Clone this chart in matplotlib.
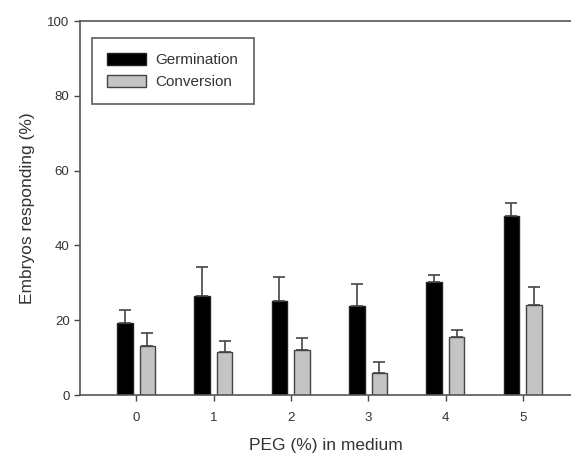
import numpy as np
import matplotlib
matplotlib.use("Agg")
import matplotlib.pyplot as plt

plt.rcParams['font.family'] = ['Liberation Sans', 'DejaVu Sans']

peg = ["0", "1", "2", "3", "4", "5"]
germination = [19.3, 26.5, 25.1, 23.8, 30.3, 47.9]
germination_err = [3.3, 7.8, 6.5, 5.8, 1.9, 3.4]
conversion = [13.1, 11.6, 12.0, 6.0, 15.4, 24.1]
conversion_err = [3.6, 2.9, 3.3, 2.9, 2.0, 4.9]

fig = plt.figure(figsize=(5.71, 4.58), dpi=100)
ax = fig.add_axes([80 / 571, 63 / 458, 491 / 571, 374 / 458])

x = np.arange(len(peg))
w = 0.2
ax.bar(x - 0.15, germination, w, color='black', edgecolor='#222', linewidth=1,
       yerr=[[0] * 6, germination_err], error_kw=dict(ecolor='#444', elinewidth=1.2, capsize=4, capthick=1.2),
       label='Germination', zorder=2)
ax.bar(x + 0.14, conversion, w, color='#c4c4c4', edgecolor='#444', linewidth=1,
       yerr=[[0] * 6, conversion_err], error_kw=dict(ecolor='#444', elinewidth=1.2, capsize=4, capthick=1.2),
       label='Conversion', zorder=2)

ax.set_xlim(-0.73, 5.62)
ax.set_ylim(0, 100)
ax.set_yticks([0, 20, 40, 60, 80, 100])
ax.set_xticks(x)
ax.set_xticklabels(peg)
ax.tick_params(axis='both', direction='out', length=4, width=1, color='#444', labelsize=9.5, labelcolor='#333')
ax.tick_params(axis='x', pad=8)

for s in ['left', 'bottom', 'top']:
    ax.spines[s].set_color('#555')
    ax.spines[s].set_linewidth(1.2)
ax.spines['right'].set_visible(False)

ax.set_xlabel('PEG (%) in medium', fontsize=12.5, color='#333', labelpad=10)
ax.set_ylabel('Embryos responding (%)', fontsize=12.5, color='#333', labelpad=9)

leg = ax.legend(loc='upper left', bbox_to_anchor=(0.0244, 0.955), borderaxespad=0, fontsize=11,
                frameon=True, fancybox=False, handlelength=2.55, handleheight=0.85, borderpad=1.0,
                labelspacing=0.48, handletextpad=0.6)
leg.get_frame().set_edgecolor('#333')
leg.get_frame().set_linewidth(1.2)
for t in leg.get_texts():
    t.set_color('#333')

fig.savefig('out.png', dpi=100)
